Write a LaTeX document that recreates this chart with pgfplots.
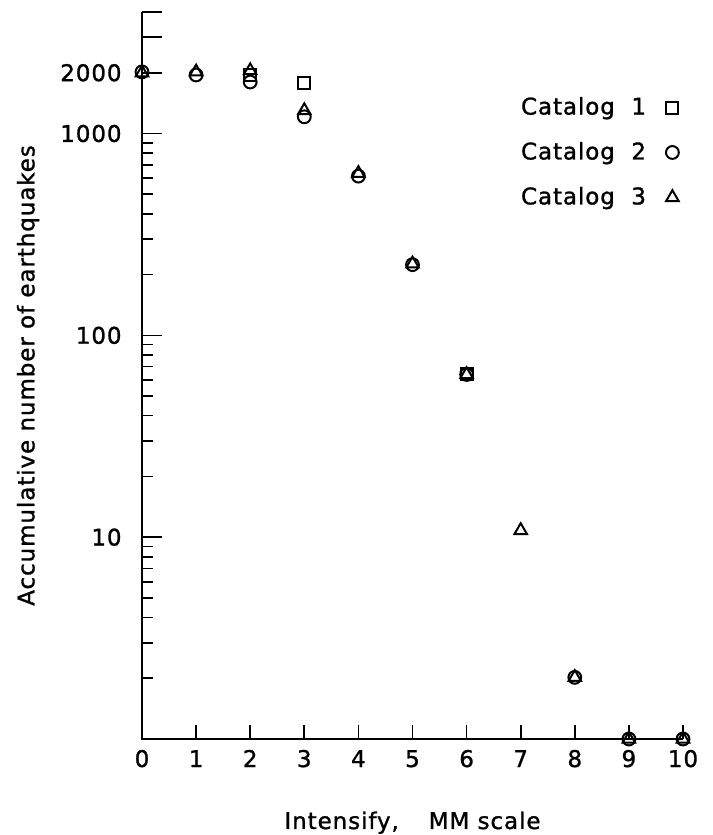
\documentclass[border=0pt]{standalone}
\usepackage{fontspec}
\setmainfont{DejaVu Sans}[LetterSpace=4, FakeBold=1.2]
\usepackage{pgfplots}
\usepackage{pgfplotstable}
\pgfplotsset{compat=1.18}

\pgfplotsset{
  myaxis/.style={
    scale only axis, width=270.5pt, height=363.5pt,
    xmin=0, xmax=10, ymin=1, ymax=4000,
    axis line style={draw=none},
    xtick pos=left, ytick pos=left,
    tick align=inside,
    tick style={line width=0.8pt, black},
  },
}

% accumulative counts
\pgfplotstableread{
x y
2 1960
3 1780
6 64
}\catone
\pgfplotstableread{
x y
0 2020
1 1950
2 1800
3 1210
4 615
5 224
6 64
8 2.02
9 1
10 1
}\cattwo
\pgfplotstableread{
x y
0 2000
1 2020
2 2050
3 1300
4 635
5 226
6 64
7 10.8
8 2.02
9 1
10 1
}\catthree

\begin{document}
\fontsize{11.5}{14}\selectfont
\begin{tikzpicture}
% x ticks
\begin{axis}[ymode=log, myaxis, ytick=\empty,
  xtick={0,1,2,3,4,5,6,7,8,9,10},
  xticklabels={0,1,2,3,4,5,6,7,8,9,10},
  major tick length=7pt,
  xticklabel style={anchor=base, yshift=-14pt, inner sep=0pt},
  xlabel={Intensify,\hspace{1.3em}MM scale},
  xlabel style={at={(axis description cs:0.5,-0.1238)}, anchor=base},
]
\end{axis}
% y ticks and data
\begin{axis}[ymode=log, myaxis, xtick=\empty,
  ytick={10,100,1000,2000,3000,4000},
  yticklabels={10,100,1000,2000,{},{}},
  minor ytick={2,3,4,5,6,7,8,9,20,30,40,50,60,70,80,90,200,300,400,500,600,700,800,900},
  major tick length=10pt, minor tick length=5.5pt,
  yticklabel style={anchor=east, inner sep=0pt, xshift=-10pt},
  ylabel={Accumulative number of earthquakes},
  ylabel style={at={(axis description cs:-0.2107,0.5)}, anchor=center},
  clip=false,
  legend plot pos=right,
  legend cell align=right,
  legend style={draw=none, fill=none, at={(rel axis cs:0.993,0.889)},
    anchor=north east, row sep=8pt, column sep=8pt, inner sep=0pt},
]
\draw[line width=1pt] (rel axis cs:0,1) -- (rel axis cs:0,0) -- (rel axis cs:1,0);
\addplot[only marks, mark=square, mark size=3pt, mark options={line width=1pt}] table {\catone};
\addlegendentry{Catalog\ \ 1}
\addplot[only marks, mark=o, mark size=3.2pt, mark options={line width=1pt}] table {\cattwo};
\addlegendentry{Catalog\ \ 2}
\addplot[only marks, mark=triangle, mark size=3.6pt, mark options={line width=1pt}] table {\catthree};
\addlegendentry{Catalog\ \ 3}
\end{axis}
\pgfresetboundingbox
\path (-71pt,-48pt) rectangle (285pt,369.5pt);
\end{tikzpicture}
\end{document}
